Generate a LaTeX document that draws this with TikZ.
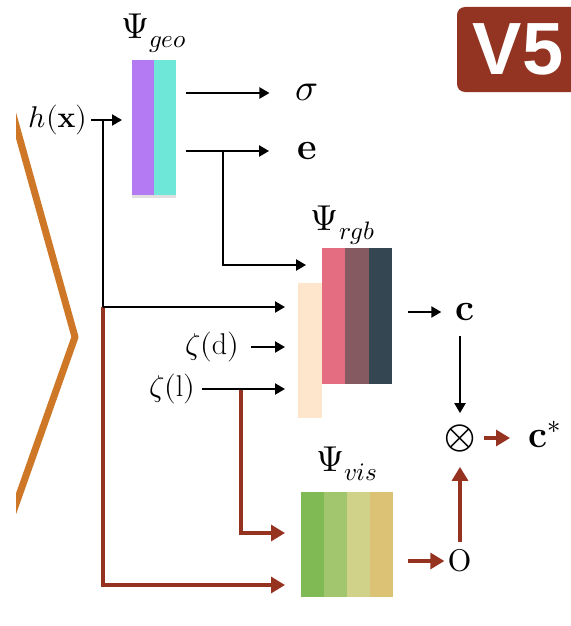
\documentclass[tikz,border=0pt]{standalone}
\usepackage{amsmath}
\usepackage{fontspec}
\usepackage{unicode-math}
\setmathfont{Latin Modern Math}
\newfontfamily\badgefont{Liberation Sans}
\usetikzlibrary{arrows.meta, positioning, calc, shadows}

\definecolor{geoPurple}{HTML}{B47AF4}
\definecolor{geoCyan}{HTML}{6EE6D8}
\definecolor{rgbPink}{HTML}{E56D82}
\definecolor{rgbMauve}{HTML}{855A61}
\definecolor{rgbSlate}{HTML}{344652}
\definecolor{peachBar}{HTML}{FDE6CC}
\definecolor{visGreen}{HTML}{80BA55}
\definecolor{visLight}{HTML}{A2C66D}
\definecolor{visPale}{HTML}{D0D28A}
\definecolor{visSand}{HTML}{DBC274}
\definecolor{arrowRed}{HTML}{963220}
\definecolor{badgeRed}{HTML}{923421}
\definecolor{chevOrange}{HTML}{CE7726}

\begin{document}
\begin{tikzpicture}[
        x=1pt, y=-1pt,
        layer/.style={rectangle, inner sep=0pt, outer sep=0pt, minimum width=23pt},
        geolayer/.style={layer, minimum width=22pt, minimum height=135pt, drop shadow={shadow xshift=0pt, shadow yshift=-3pt, opacity=0.12, fill=black}},
        sym/.style={inner sep=0pt, font=\fontsize{38}{40}\selectfont},
        inp/.style={inner sep=2pt, font=\fontsize{30}{32}\selectfont},
        psi/.style={inner sep=0pt, font=\fontsize{36}{40}\selectfont},
        badge/.style={rectangle, fill=badgeRed, rounded corners=8pt, minimum width=122pt, minimum height=85pt, text=white, font=\badgefont\bfseries\fontsize{74}{74}\selectfont},
        blk/.style={draw=black, line width=2.2pt, -{Triangle[length=10pt, width=11pt]}},
        visarrow/.style={draw=arrowRed, line width=3.2pt, -{Triangle[length=14pt, width=16pt]}},
        chevron/.style={draw=chevOrange, line width=7pt, line join=round}
    ]
    \useasboundingbox (0,0) rectangle (570,626);

    % Chevron
    \begin{scope}
        \clip (16,0) rectangle (570,626);
        \draw[chevron] (-19,0) -- (75,337) -- (-18,600);
    \end{scope}

    % Badge
    \node[badge] (vfive) at (518,49.5) {V5};

    % Blocks
    \node[geolayer, fill=geoPurple] (geoA) at (143,127.5) {};
    \node[geolayer, fill=geoCyan, right=0pt of geoA] (geoB) {};

    \node[layer, fill=peachBar, minimum width=24pt, minimum height=135pt] (peach) at (310,350.5) {};
    \node[layer, fill=rgbPink, minimum width=23.3pt, minimum height=136pt] (rgbA) at (333.7,316) {};
    \node[layer, fill=rgbMauve, minimum width=23.3pt, minimum height=136pt, right=0pt of rgbA] (rgbB) {};
    \node[layer, fill=rgbSlate, minimum width=23.3pt, minimum height=136pt, right=0pt of rgbB] (rgbC) {};

    \node[layer, fill=visGreen, minimum height=105pt] (visA) at (312.5,544.5) {};
    \node[layer, fill=visLight, minimum height=105pt, right=0pt of visA] (visB) {};
    \node[layer, fill=visPale, minimum height=105pt, right=0pt of visB] (visC) {};
    \node[layer, fill=visSand, minimum height=105pt, right=0pt of visC] (visD) {};

    % Labels
    \node[psi, above=7pt of geoA.north east] (psiGeo) {$\Psi_{geo}$};
    \node[psi, above=3pt of rgbB.north, xshift=-14pt] (psiRgb) {$\Psi_{rgb}$};
    \node[psi, above=11pt of visB.north east] (psiVis) {$\Psi_{vis}$};

    % Inputs and outputs
    \node[inp] (hx) at (58,120) {$h(\mathbf{x})$};
    \node[inp] (zd) at (212,347) {$\zeta(\mathrm{d})$};
    \node[inp] (zl) at (172,389) {$\zeta(\mathrm{l})$};
    \node[sym] (sigma) at (307,93) {$\sigma$};
    \node[sym] (e) at (307,151) {$\mathbf{e}$};
    \node[sym] (c) at (465,312) {$\mathbf{c}$};
    \node[sym, font=\fontsize{40}{44}\selectfont] (otimes) at (460,438) {$\otimes$};
    \node[sym, anchor=base west] (cstar) at (528,447) {$\mathbf{c}^*$};
    \node[sym, font=\fontsize{50}{52}\selectfont] (o) at (460,561) {o};

    \coordinate (hSplit) at (103,120);
    \coordinate (hTurn) at (103,307);
    \coordinate (eSplit) at (223,151);
    \coordinate (lSplit) at (241,389);

    % Geometry arrows
    \draw[blk, shorten <=2pt, shorten >=10pt] (hx.east) -- (hx.east -| geoA.west);
    \draw[blk, shorten <=10pt, shorten >=26pt] (geoB.east |- sigma) -- (sigma);
    \draw[blk, shorten <=10pt, shorten >=28pt] (geoB.east |- e) -- (e);
    \draw[blk, shorten >=16pt] (eSplit) |- ($(rgbA.north west)+(0,17)$);

    % Visibility arrows
    \draw[visarrow, shorten >=16pt] (lSplit) |- ($(visA.north west)+(0,41)$);
    \draw[visarrow, shorten >=16pt] (hTurn) |- ($(visA.south west)+(0,-12)$);

    % Colour arrows
    \draw[line width=2.2pt] (hSplit) -- (hTurn);
    \draw[blk, shorten >=13pt] (hTurn) -- (hTurn -| peach.west);
    \draw[blk, shorten <=10pt, shorten >=13pt] (zd) -- (zd -| peach.west);
    \draw[blk, shorten <=5pt, shorten >=13pt] (zl) -- (zl -| peach.west);
    \draw[blk, shorten <=16pt, shorten >=14pt] (rgbC.east |- c) -- (c);
    \draw[blk, shorten <=15pt, shorten >=11pt] (c.south -| otimes) -- (otimes);

    % Output arrows
    \draw[visarrow, shorten <=15pt, shorten >=4pt] (visD.east |- o) -- (o);
    \draw[visarrow, shorten <=8pt, shorten >=15pt] (o) -- (otimes);
    \draw[visarrow, shorten <=8pt, shorten >=18pt] (otimes) -- (otimes -| cstar.west);

\end{tikzpicture}
\end{document}
